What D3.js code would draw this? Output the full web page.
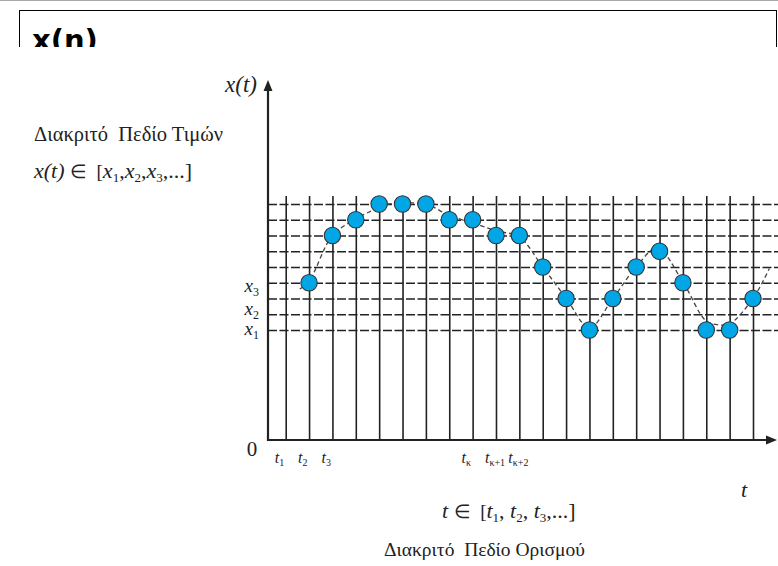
<!DOCTYPE html>
<html>
<head>
<meta charset="utf-8">
<script src="https://cdn.jsdelivr.net/npm/d3@7"></script>
<style>
  body { margin: 0; background: #fff; }
  svg { display: block; }
  text { white-space: pre; }
</style>
</head>
<body>
<div id="chart"></div>
<script>
// sampling instants t1..t21 (vertical grid lines)
const tTicks = [1, 2, 3, 4, 5, 6, 7, 8, 9, 10, 11, 12, 13, 14, 15, 16, 17, 18, 19, 20, 21];
// quantisation levels (horizontal dashed lines)
const levels = [1, 2, 3, 4, 5, 6, 7, 8, 9];

// quantised samples (blue dots)
const sampleT     = [2, 3, 4, 5, 6, 7, 8, 9, 10, 11, 12, 13, 14, 15, 16, 17, 18, 19, 20, 21];
const sampleLevel = [4, 7, 8, 9, 9, 9, 8, 8, 7, 7, 5, 3, 1, 3, 5, 6, 4, 1, 1, 3];

// analog signal (dashed curve)
const analogT     = [1.6, 2, 3, 4, 4.7, 5, 6, 7, 8, 9, 10, 11, 12, 13, 14, 15, 16, 16.9, 18, 19, 19.6, 20, 21, 21.7];
const analogLevel = [3.6, 4.1, 7.0, 8.05, 8.6, 8.9, 9.05, 9.0, 8.27, 7.8, 7.3, 6.9, 5.0, 3.03, 1.15, 3.0, 5.0, 6.2, 4.05, 1.57, 1.32, 1.38, 3.0, 4.9];

// tick labels
const tLabelT   = [1, 2, 3, 9, 10, 11];
const tLabelSub = ["1", "2", "3", "κ", "κ+1", "κ+2"];
const xLabelLevel = [0.87, 2.14, 3.6];
const xLabelSub   = ["1", "2", "3"];

const width = 778;
const height = 566;
const serif = "'Liberation Serif', 'Times New Roman', serif";

// origin of the axes
const x0 = 268;
const y0 = 440;

const x = d3.scaleLinear().domain([1, 21]).range([285.7, 753]);
const y = d3.scaleLinear().domain([1, 9]).range([330, 204]);

const svg = d3.select("#chart")
  .append("svg")
  .attr("width", width)
  .attr("height", height);

// --- title box, cut off at the bottom ---
svg.append("clipPath").attr("id", "titleClip")
  .append("rect").attr("x", 0).attr("y", 0).attr("width", width).attr("height", 47);

const title = svg.append("g").attr("clip-path", "url(#titleClip)");
title.append("rect")
  .attr("x", 19.5).attr("y", 10.5)
  .attr("width", 757).attr("height", 80)
  .attr("fill", "none").attr("stroke", "#000").attr("stroke-width", 1);
title.append("text")
  .attr("x", 32).attr("y", 50)
  .attr("font-family", "'DejaVu Sans', sans-serif")
  .attr("font-weight", "bold")
  .attr("font-size", 29)
  .text("x(n)");
svg.append("line")
  .attr("x1", 0).attr("x2", width).attr("y1", 0.5).attr("y2", 0.5)
  .attr("stroke", "#aaa");

// --- grid ---
// vertical lines at each sample instant
svg.append("g")
  .attr("transform", `translate(0,${y0})`)
  .call(d3.axisBottom(x).tickValues(tTicks).tickSize(-(y0 - 196)).tickFormat(""))
  .call(g => g.select(".domain").remove())
  .call(g => g.selectAll(".tick line").attr("stroke", "#222").attr("stroke-width", 1.6));

// horizontal dashed lines at each level
svg.append("g")
  .attr("transform", `translate(${x0},0)`)
  .call(d3.axisLeft(y).tickValues(levels).tickSize(-(width - x0)).tickFormat(""))
  .call(g => g.select(".domain").remove())
  .call(g => g.selectAll(".tick line")
    .attr("stroke", "#222").attr("stroke-width", 1.6).attr("stroke-dasharray", "9,2.5"));

// --- axes with arrows ---
svg.append("line")
  .attr("x1", x0).attr("y1", y0 + 1).attr("x2", x0).attr("y2", 88)
  .attr("stroke", "#222").attr("stroke-width", 2.2);
svg.append("path")
  .attr("d", `M${x0},80 L${x0 - 4.5},91 L${x0 + 4.5},91 Z`)
  .attr("fill", "#222");

svg.append("line")
  .attr("x1", x0 - 1).attr("y1", y0).attr("x2", 768).attr("y2", y0)
  .attr("stroke", "#222").attr("stroke-width", 2.2);
svg.append("path")
  .attr("d", `M777,${y0} L766,${y0 - 4.5} L766,${y0 + 4.5} Z`)
  .attr("fill", "#222");

// --- analog signal ---
const analog = analogT.map((t, i) => [t, analogLevel[i]]);
svg.append("path")
  .datum(analog)
  .attr("fill", "none")
  .attr("stroke", "#444")
  .attr("stroke-width", 1.3)
  .attr("stroke-dasharray", "4.5,3")
  .attr("d", d3.line().x(d => x(d[0])).y(d => y(d[1])).curve(d3.curveCatmullRom.alpha(0.5)));

// --- quantised samples ---
svg.selectAll("circle.sample")
  .data(sampleT.map((t, i) => ({ t, level: sampleLevel[i] })))
  .enter()
  .append("circle")
  .attr("class", "sample")
  .attr("cx", d => x(d.t))
  .attr("cy", d => y(d.level))
  .attr("r", 8.2)
  .attr("fill", "#00a6e6")
  .attr("stroke", "#333")
  .attr("stroke-width", 1.1);

// --- labels ---
const txt = (px, py, size, italic) => svg.append("text")
  .attr("x", px).attr("y", py)
  .attr("font-family", serif)
  .attr("font-size", size)
  .attr("font-style", italic ? "italic" : "normal")
  .attr("fill", "#222");

// x(t) at the top of the y axis
txt(257, 92, 23, true).attr("text-anchor", "end").text("x(t)");

// value domain text
txt(34, 141, 20.5, false).text("Διακριτό  Πεδίο Τιμών");
{
  const t = txt(34, 178, 22, true);
  t.append("tspan").text("x(t) ");
  t.append("tspan").attr("font-style", "normal").attr("font-size", 19).text("∈  [");
  xLabelSub.forEach(s => {
    t.append("tspan").text("x");
    t.append("tspan").attr("font-size", 13).attr("font-style", "normal").attr("dy", 4).text(s);
    t.append("tspan").attr("font-style", "normal").attr("dy", -4).text(",");
  });
  t.append("tspan").attr("font-style", "normal").text("...]");
}

// x1, x2, x3 level labels
svg.selectAll("text.xlab")
  .data(xLabelLevel.map((l, i) => ({ level: l, sub: xLabelSub[i] })))
  .enter()
  .append("text")
  .attr("class", "xlab")
  .attr("x", 259)
  .attr("y", d => y(d.level) + 3)
  .attr("text-anchor", "end")
  .attr("font-family", serif)
  .attr("font-size", 19)
  .attr("font-style", "italic")
  .attr("fill", "#222")
  .each(function (d) {
    const s = d3.select(this);
    s.append("tspan").text("x");
    s.append("tspan").attr("font-size", 12).attr("font-style", "normal").attr("dy", 4).text(d.sub);
  });

// origin
txt(252, 456, 21, false).attr("text-anchor", "middle").text("0");

// t labels under the axis
svg.selectAll("text.tlab")
  .data(tLabelT.map((t, i) => ({ t, sub: tLabelSub[i] })))
  .enter()
  .append("text")
  .attr("class", "tlab")
  .attr("x", d => x(d.t) - 11)
  .attr("y", 463)
  .attr("font-family", serif)
  .attr("font-size", 16)
  .attr("font-style", "italic")
  .attr("fill", "#222")
  .each(function (d) {
    const s = d3.select(this);
    s.append("tspan").text("t");
    s.append("tspan").attr("font-size", 10).attr("font-style", "normal").attr("dy", 3).text(d.sub);
  });

// t at the end of the time axis
txt(741, 497, 22, true).text("t");

// time domain text
{
  const t = txt(442, 518, 22, true);
  t.append("tspan").text("t ");
  t.append("tspan").attr("font-style", "normal").attr("font-size", 19).text("∈  [");
  tLabelSub.slice(0, 3).forEach((s, i) => {
    t.append("tspan").text("t");
    t.append("tspan").attr("font-size", 13).attr("font-style", "normal").attr("dy", 4).text(s);
    t.append("tspan").attr("font-style", "normal").attr("dy", -4).text(i < 2 ? ", " : ",");
  });
  t.append("tspan").attr("font-style", "normal").text("...]");
}
txt(384, 556, 19.5, false).text("Διακριτό  Πεδίο Ορισμού");
</script>
</body>
</html>
